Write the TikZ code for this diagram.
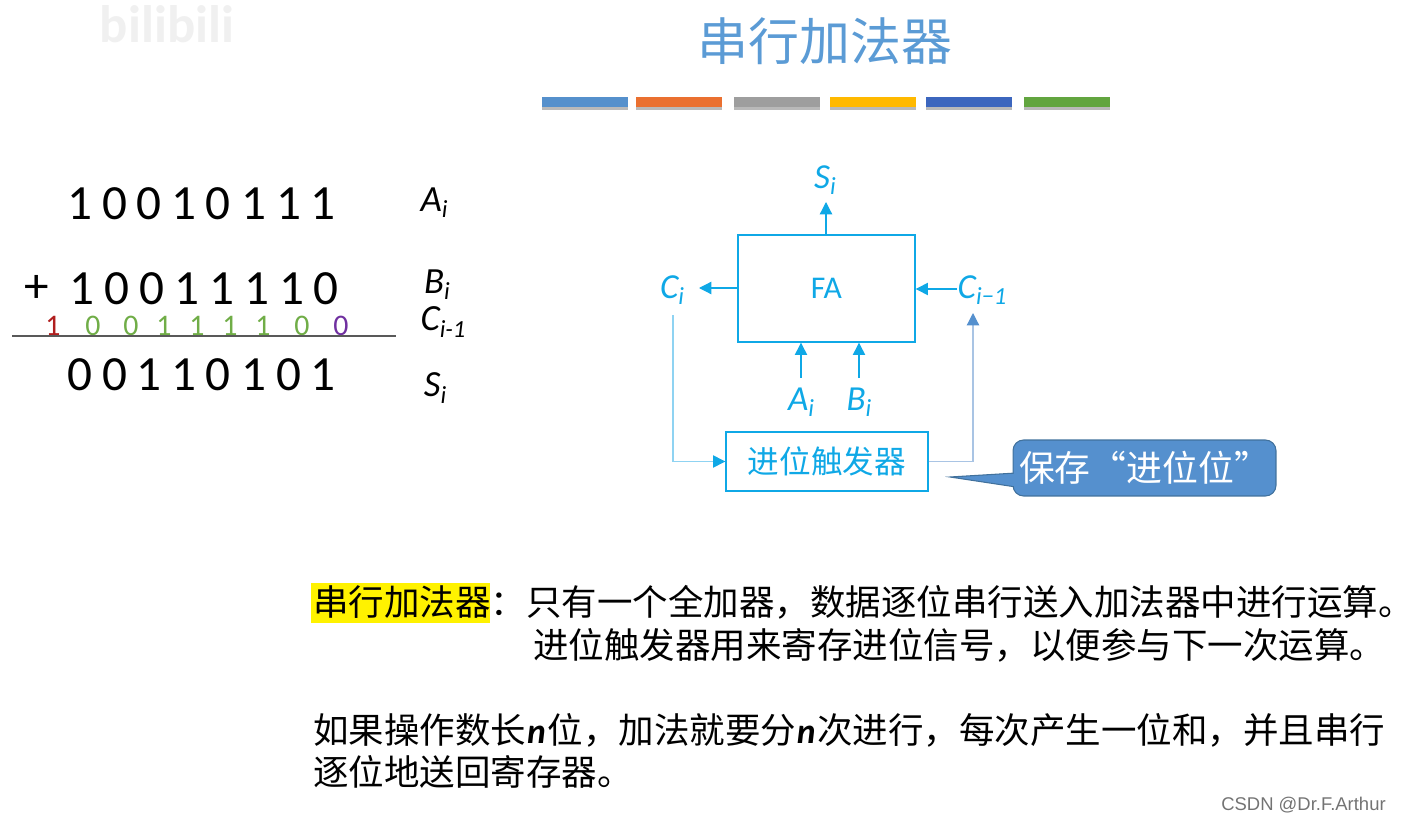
\documentclass[tikz,border=0pt]{standalone}
\usepackage{fontspec}
\setmainfont{Noto Sans CJK SC}
\newfontfamily\latinfont{Carlito}
\newfontfamily\markfont{Liberation Sans}
\usetikzlibrary{arrows.meta,shadows}
\definecolor{titleblue}{HTML}{5B9BD5}
\definecolor{barblue}{HTML}{5590CC}
\definecolor{barorange}{HTML}{EA7030}
\definecolor{bargray}{HTML}{9E9E9E}
\definecolor{bargold}{HTML}{FFB900}
\definecolor{bardeep}{HTML}{3C66BE}
\definecolor{bargreen}{HTML}{62A53F}
\definecolor{facyan}{HTML}{0FA8E6}
\definecolor{palecyan}{HTML}{8FD3F2}
\definecolor{paleblue}{HTML}{A9C4E4}
\definecolor{noteblue}{HTML}{5590CE}
\definecolor{noteedge}{HTML}{41719C}
\definecolor{carryred}{HTML}{B01E1E}
\definecolor{carrygreen}{HTML}{70AD47}
\definecolor{carryviolet}{HTML}{7030A0}
\tikzset{
  bigdigit/.style={inner sep=0pt, font=\latinfont\fontsize{28}{30}\selectfont},
  carrydigit/.style={inner sep=0pt, font=\latinfont\fontsize{17}{20}\selectfont},
  rowlabel/.style={inner sep=0pt, font=\latinfont\itshape\fontsize{21}{24}\selectfont},
  flowlabel/.style={inner sep=1pt, facyan, font=\latinfont\itshape\fontsize{20}{24}\selectfont},
  fabox/.style={draw=facyan, line width=0.8pt, inner sep=0pt, text=facyan},
  bodyline/.style={anchor=west, inner sep=0pt, font=\fontsize{20.2}{24}\selectfont},
  flowline/.style={facyan, line width=0.7pt, -{Triangle[length=7pt,width=7pt]}},
}
\newcommand{\rowsub}[2]{#1\raisebox{-0.35ex}{\fontsize{14}{16}\selectfont #2}}
\newcommand{\boldn}{\hspace{0.5pt}{\latinfont\bfseries\itshape n}\hspace{1pt}}
\begin{document}
\begin{tikzpicture}[x=0.02cm,y=-0.02cm]
\useasboundingbox (0,0) rectangle (1401,821);

% Logo in the corner
\node[inner sep=0pt, black!6, font=\latinfont\bfseries\fontsize{30}{32}\selectfont] (logo) at (167,24) {bilibili};

% Title and colour bars
\node[inner sep=0pt, titleblue, font=\fontsize{29}{32}\selectfont] (title) at (825,41) {串行加法器};
\foreach \xa/\xb/\col in {542/628/barblue,636/722/barorange,734/820/bargray,830/916/bargold,926/1012/bardeep,1024/1110/bargreen}
  \fill[\col, drop shadow={shadow xshift=0pt, shadow yshift=-1.5pt, opacity=.55, fill=gray}] (\xa,97) rectangle (\xb,107);

% Addition by hand
\foreach \xpos/\digit [count=\n] in {80/1,115/0,149/0,184/1,218/0,254/1,289/1,323/1}
  \node[bigdigit] (a\n) at (\xpos,204) {\digit};
\node[bigdigit] (plus) at (37,289) {+};
\foreach \xpos/\digit [count=\n] in {82/1,117/0,152/0,187/1,222/1,257/1,292/1,326/0}
  \node[bigdigit] (b\n) at (\xpos,289) {\digit};
\foreach \xpos/\digit/\col [count=\n] in {53/1/carryred,93/0/carrygreen,131/0/carrygreen,164/1/carrygreen,197/1/carrygreen,230/1/carrygreen,263/1/carrygreen,302/0/carrygreen,341/0/carryviolet}
  \node[carrydigit, \col] (c\n) at (\xpos,326) {\digit};
\draw[black!65, line width=0.6pt] (12,336) -- (396,336);
\foreach \xpos/\digit [count=\n] in {80/0,115/0,149/1,184/1,218/0,254/1,289/0,323/1}
  \node[bigdigit] (s\n) at (\xpos,375) {\digit};
% Row labels
\node[rowlabel] (rowA) at (434,203) {\rowsub{A}{i}};
\node[rowlabel] (rowB) at (437,285) {\rowsub{B}{i}};
\node[rowlabel] (rowC) at (443,322) {\rowsub{C}{i-1}};
\node[rowlabel] (rowS) at (435,388) {\rowsub{S}{i}};

% Full adder and carry flip-flop
\node[fabox, minimum width=3.54cm, minimum height=2.14cm, font=\latinfont\fontsize{18}{20}\selectfont] (fa) at (826.5,288.5) {FA};
\node[fabox, minimum width=4.04cm, minimum height=1.18cm, font=\fontsize{18}{20}\selectfont] (ff) at (827,461.5) {进位触发器};
\node[flowlabel] (si) at (825,180) {\rowsub{S}{i}};
\node[flowlabel] (ci) at (672,290) {\rowsub{C}{i}};
\node[flowlabel] (cim) at (982,290) {\rowsub{C}{i−1}};
\node[flowlabel] (ai) at (801,402) {\rowsub{A}{i}};
\node[flowlabel] (bi) at (859,402) {\rowsub{B}{i}};
\coordinate (sitip) at (826,202);
\coordinate (citip) at (699,288);
\coordinate (cimfoot) at (957,289);
\coordinate (aifoot) at (801,378);
\coordinate (bifoot) at (859,378);
\coordinate (citop) at (673,315);
\coordinate (cimtip) at (973,313);

% Connectors
\draw[flowline] (fa.north -| sitip) -- (sitip);
\draw[flowline] (fa.west |- citip) -- (citip);
\draw[flowline] (cimfoot) -- (fa.east |- cimfoot);
\draw[flowline] (aifoot) -- (fa.south -| aifoot);
\draw[flowline] (bifoot) -- (fa.south -| bifoot);
\draw[flowline, palecyan, -{Triangle[length=7pt,width=7pt,color=facyan,fill=facyan]}] (citop) |- (ff.west);
\draw[flowline, paleblue, -{Triangle[length=7pt,width=7pt,color=noteblue,fill=noteblue]}] (ff.east) -| (cimtip);

% Speech note
\fill[noteblue, draw=noteedge, line width=0.6pt] (1016,473) -- (950,477) -- (1016,487) -- cycle;
\node[draw=noteedge, fill=noteblue, line width=0.6pt, rounded corners=6pt, inner sep=0pt, minimum width=5.26cm, minimum height=1.12cm, text=white, font=\fontsize{20.4}{22}\selectfont] (note) at (1144.5,468) {保存“进位位”\hspace{6pt}};
\fill[noteblue] (1012,474) -- (1016,474) -- (1016,486) -- (1012,486) -- cycle;

% Explanation text
\fill[yellow] (311,583) rectangle (490,623);
\node[bodyline] (line1) at (313,602) {串行加法器：只有一个全加器，数据逐位串行送入加法器中进行运算。\hspace{-0.4em}};
\node[bodyline] (line2) at (533,645) {进位触发器用来寄存进位信号，以便参与下一次运算。};
\node[bodyline] (line3) at (313,730) {如果操作数长\boldn{}位，加法就要分\boldn{}次进行，每次产生一位和，并且串行};
\node[bodyline] (line4) at (313,772) {逐位地送回寄存器。};

% Site mark
\node[anchor=east, inner sep=0pt, black!55, font=\markfont\fontsize{10.5}{12}\selectfont] (mark) at (1386,805) {CSDN @Dr.F.Arthur};

\end{tikzpicture}
\end{document}
